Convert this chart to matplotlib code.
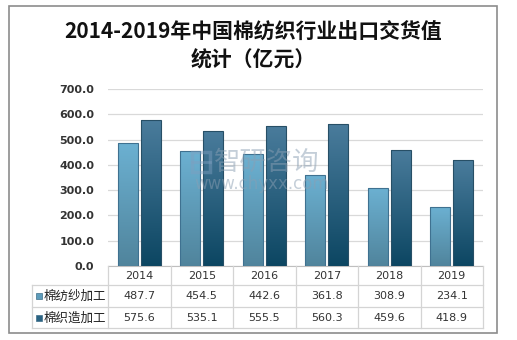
import numpy as np
import matplotlib.pyplot as plt
import matplotlib.transforms as mtransforms
from matplotlib.colors import LinearSegmentedColormap
from matplotlib.lines import Line2D
from matplotlib.patches import Rectangle

plt.rcParams['font.family'] = ['Noto Sans CJK SC', 'DejaVu Sans']

years = ['2014', '2015', '2016', '2017', '2018', '2019']
series_names = ['棉纺纱加工', '棉织造加工']
spinning = [487.7, 454.5, 442.6, 361.8, 308.9, 234.1]
weaving = [575.6, 535.1, 555.5, 560.3, 459.6, 418.9]
yticks = [0, 100, 200, 300, 400, 500, 600, 700]

W, H = 517, 340
fig = plt.figure(figsize=(W / 100, H / 100), dpi=100)


def fx(px):
    return px / W


def fy(py):
    return 1 - py / H


# outer frame
fig.add_artist(Rectangle((fx(9), fy(333)), fx(497) - fx(9), fy(6) - fy(333),
                         transform=fig.transFigure, fill=False,
                         edgecolor='#8c8c8c', linewidth=1.2))

fig.text(fx(253), fy(32), '2014-2019年中国棉纺织行业出口交货值',
         ha='center', va='center', fontsize=15, fontweight='semibold', color='#111111')
fig.text(fx(253), fy(60), '统计（亿元）',
         ha='center', va='center', fontsize=15, fontweight='semibold', color='#111111')

ax = fig.add_axes([fx(108), fy(266), fx(483) - fx(108), fy(89) - fy(266)])
x = np.arange(len(years))
bw = 0.32
off = 0.185

light_cmap = LinearSegmentedColormap.from_list('l', ['#50849c', '#6cb1d2'])
dark_cmap = LinearSegmentedColormap.from_list('d', ['#0c4662', '#4a7c9c'])

b1 = ax.bar(x - off, spinning, bw, color='#5d9cbb', edgecolor='#3f7190',
            linewidth=0.8, zorder=3)
b2 = ax.bar(x + off, weaving, bw, color='#2a6383', edgecolor='#274f66',
            linewidth=0.8, zorder=3)

grad = np.linspace(0, 1, 256).reshape(-1, 1)
for bars, cmap in ((b1, light_cmap), (b2, dark_cmap)):
    for b in bars:
        x0, y0 = b.get_x(), b.get_y()
        im = ax.imshow(grad, cmap=cmap, origin='lower', aspect='auto',
                       extent=[x0, x0 + b.get_width(), y0, y0 + b.get_height()],
                       zorder=3.5)
        im.set_clip_path(b)
        b.set_facecolor('none')
        b.set_zorder(4)

ax.set_xlim(-0.5, len(years) - 0.5)
ax.set_ylim(0, 700)
ax.set_yticks(yticks)
ax.set_yticklabels([f'{v:.1f}' for v in yticks], fontsize=8, color='#333333',
                   fontweight='bold', family='DejaVu Sans')
ax.tick_params(axis='y', length=0, pad=10)
ax.set_xticks([])
ax.grid(axis='y', color='#d9d9d9', linewidth=0.9, zorder=0)
for s in ('left', 'right', 'top'):
    ax.spines[s].set_visible(False)
ax.spines['bottom'].set_color('#bfbfbf')

# data table below the axis
tr = mtransforms.blended_transform_factory(ax.transData, fig.transFigure)
left = -0.5 + (32 - 108) / ((483 - 108) / len(years))
right = len(years) - 0.5
line_kw = dict(color='#d4d4d4', linewidth=0.9, transform=tr, clip_on=False)
for yy in (285, 307, 328):
    fig.add_artist(Line2D([left, right], [fy(yy), fy(yy)], **line_kw))
fig.add_artist(Line2D([left, left], [fy(285), fy(328)], **line_kw))
for i in range(len(years) + 1):
    fig.add_artist(Line2D([i - 0.5, i - 0.5], [fy(266), fy(328)], **line_kw))

for i, yr in enumerate(years):
    fig.text(i, fy(276), yr, transform=tr, ha='center', va='center',
             fontsize=8, color='#333333', family='DejaVu Sans')
    fig.text(i, fy(296), f'{spinning[i]:.1f}', transform=tr, ha='center',
             va='center', fontsize=8, color='#333333', family='DejaVu Sans')
    fig.text(i, fy(318), f'{weaving[i]:.1f}', transform=tr, ha='center',
             va='center', fontsize=8, color='#333333', family='DejaVu Sans')

for name, col, yy in ((series_names[0], '#5d9cbb', 296),
                      (series_names[1], '#2a6383', 318)):
    fig.add_artist(Rectangle((fx(36), fy(yy) - 3 / H), 6 / W, 6 / H,
                             transform=fig.transFigure, facecolor=col,
                             edgecolor='#3f6f8a', linewidth=0.5))
    fig.text(fx(44), fy(yy), name, ha='left', va='center', fontsize=9,
             color='#222222')

# watermark
fig.text(fx(214), fy(162), '智研咨询', ha='left', va='center', fontsize=19,
         color='#8a9fb3', alpha=0.5, zorder=10)
fig.text(fx(194), fy(184), 'www.chyxx.com', ha='left', va='center', fontsize=12,
         color='#8a9fb3', alpha=0.5, zorder=10, family='DejaVu Sans')
fig.add_artist(Rectangle((fx(192), fy(172)), 18 / W, 20 / H,
                         transform=fig.transFigure, fill=False,
                         edgecolor='#7f9fbf', linewidth=2.5, alpha=0.45, zorder=10))
fig.add_artist(Line2D([fx(192), fx(210)], [fy(162), fy(162)],
                      transform=fig.transFigure, color='#7f9fbf',
                      linewidth=2, alpha=0.45, zorder=10))

fig.savefig('out.png', dpi=100)
